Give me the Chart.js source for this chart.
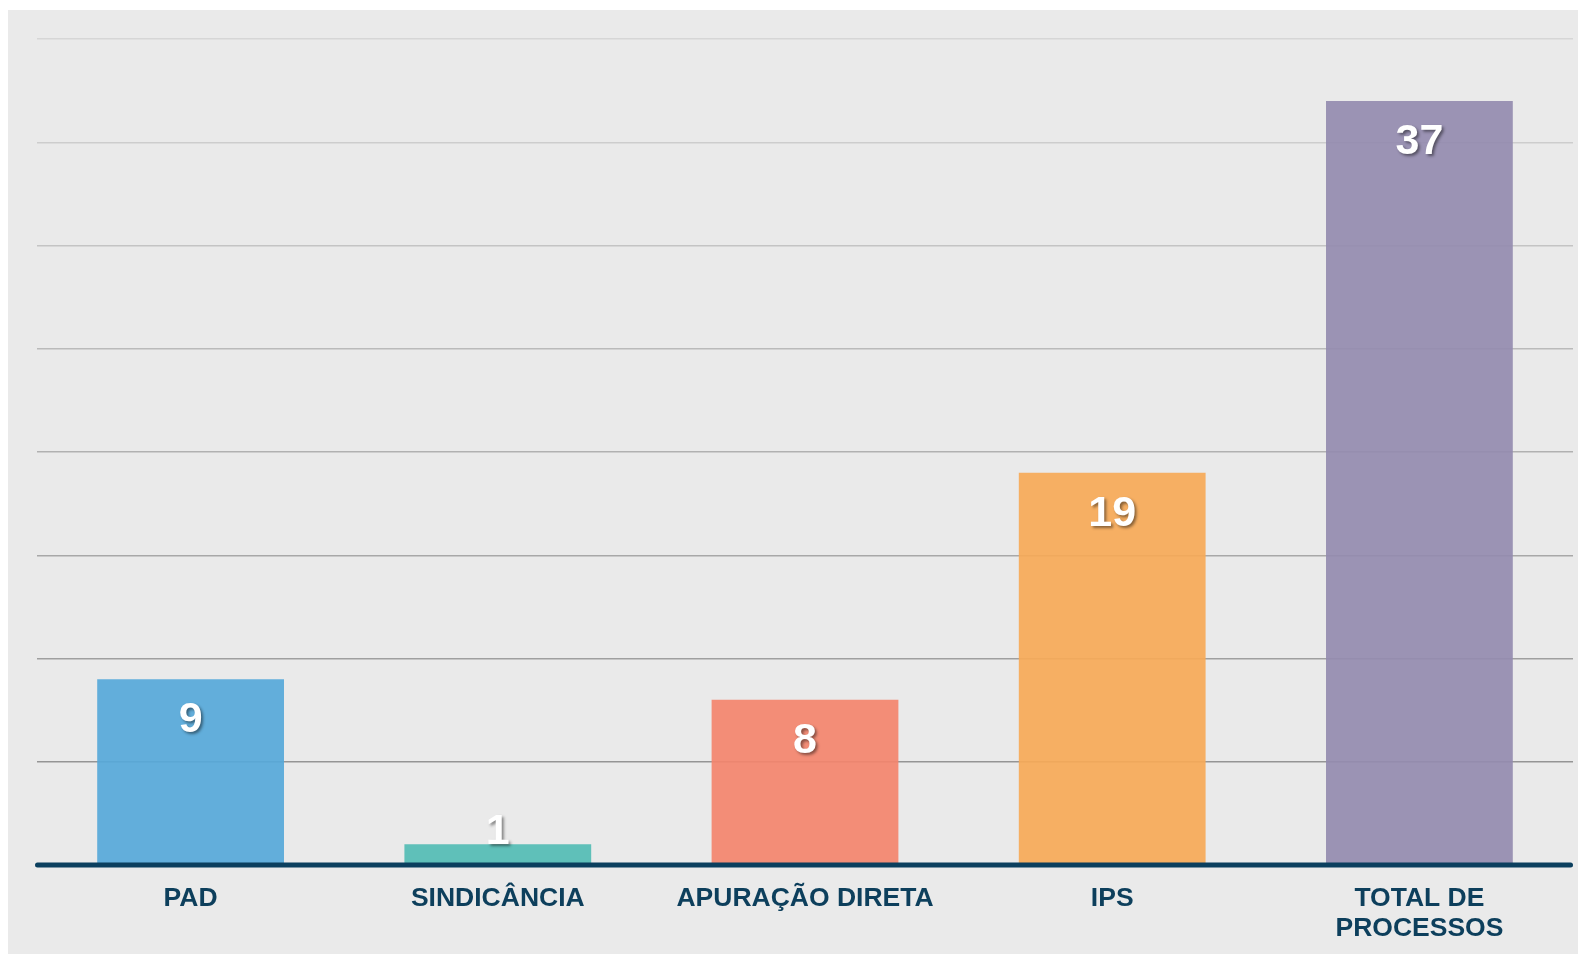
<!DOCTYPE html>
<html>
<head>
<meta charset="utf-8">
<script src="https://cdn.jsdelivr.net/npm/chart.js@4/dist/chart.umd.min.js"></script>
<style>
  html, body { margin: 0; padding: 0; background: #ffffff; }
  #wrap { position: absolute; left: 0; top: 0; width: 1578px; height: 954px; }
</style>
</head>
<body>
<div id="wrap"><canvas id="c" width="1578" height="954"></canvas></div>
<script>
const categories = ["PAD", "SINDICÂNCIA", "APURAÇÃO DIRETA", "IPS", ["TOTAL DE", "PROCESSOS"]];
const values = [9, 1, 8, 19, 37];
const barColors = [
  "rgba(86,168,217,0.92)",
  "rgba(82,188,180,0.92)",
  "rgba(243,132,108,0.92)",
  "rgba(246,169,87,0.92)",
  "rgba(148,139,175,0.92)"
];
const yMax = 40;
const yStep = 5;

const panelPlugin = {
  id: 'panel',
  beforeDraw(chart) {
    const ctx = chart.ctx;
    ctx.save();
    ctx.fillStyle = '#ffffff';
    ctx.fillRect(0, 0, chart.width, chart.height);
    ctx.fillStyle = '#EAEAEA';
    ctx.fillRect(8, 10, chart.width - 8, chart.height - 10);
    ctx.restore();
  }
};

const axisLinePlugin = {
  id: 'axisLine',
  afterDatasetsDraw(chart) {
    const ctx = chart.ctx;
    const y = chart.scales.y.getPixelForValue(0);
    ctx.save();
    ctx.strokeStyle = '#0B3F5E';
    ctx.lineWidth = 5;
    ctx.lineCap = 'round';
    ctx.beginPath();
    ctx.moveTo(37.5, y);
    ctx.lineTo(1570.5, y);
    ctx.stroke();
    ctx.restore();
  }
};

const labelPlugin = {
  id: 'valueLabels',
  afterDatasetsDraw(chart) {
    const ctx = chart.ctx;
    const meta = chart.getDatasetMeta(0);
    const base = chart.scales.y.getPixelForValue(0);
    ctx.save();
    ctx.font = 'bold 43px "Liberation Sans", Arial, sans-serif';
    ctx.textAlign = 'center';
    ctx.textBaseline = 'alphabetic';
    ctx.fillStyle = '#ffffff';
    ctx.shadowColor = 'rgba(0,0,0,0.45)';
    ctx.shadowOffsetX = 2;
    ctx.shadowOffsetY = 2;
    ctx.shadowBlur = 3;
    meta.data.forEach((bar, i) => {
      const y = Math.min(bar.y + 53, base - 21);
      ctx.fillText(String(values[i]), bar.x, y);
    });
    ctx.restore();
  }
};

function gridColor(ctx) {
  const v = ctx.tick ? ctx.tick.value : 0;
  if (v === 0) return 'rgba(0,0,0,0)';
  const t = v / yMax;
  const g = Math.round(140 + (214 - 140) * t);
  return `rgb(${g},${g},${g})`;
}

new Chart(document.getElementById('c'), {
  type: 'bar',
  data: {
    labels: categories,
    datasets: [{
      data: values,
      backgroundColor: barColors,
      borderWidth: 0,
      categoryPercentage: 1.0,
      barPercentage: 0.608
    }]
  },
  options: {
    responsive: false,
    animation: false,
    devicePixelRatio: 1,
    layout: { padding: { left: 37, right: 5, top: 39, bottom: 0 } },
    plugins: { legend: { display: false }, tooltip: { enabled: false } },
    scales: {
      x: {
        grid: { display: false, drawTicks: false },
        border: { display: false },
        afterFit(scale) { scale.height = 89; },
        ticks: {
          autoSkip: false,
          maxRotation: 0,
          minRotation: 0,
          padding: 18,
          color: '#0D3F5C',
          font: { family: '"Liberation Sans", Arial, sans-serif', size: 26.5, weight: 'bold', lineHeight: 1.15 }
        }
      },
      y: {
        min: 0,
        max: yMax,
        ticks: { display: false, stepSize: yStep },
        grid: { color: gridColor, lineWidth: 1.5, drawTicks: false },
        border: { display: false }
      }
    }
  },
  plugins: [panelPlugin, axisLinePlugin, labelPlugin]
});
</script>
</body>
</html>
